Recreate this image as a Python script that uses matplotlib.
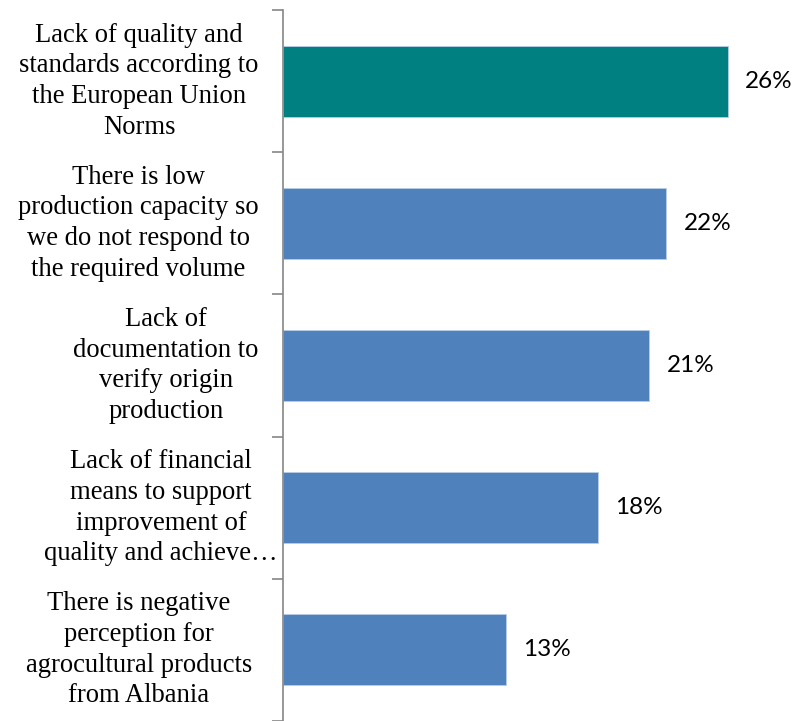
import matplotlib
matplotlib.use("Agg")
import matplotlib.pyplot as plt
from matplotlib.ticker import FixedLocator

# reasons for not exporting, share of answers (%)
reasons = [
    "Lack of quality and\nstandards according to\nthe European Union\nNorms",
    "There is low\nproduction capacity so\nwe do not respond to\nthe required volume",
    "Lack of\ndocumentation to\nverify origin\nproduction",
    "Lack of financial\nmeans to support\nimprovement of\nquality and achieve\u2026",
    "There is negative\nperception for\nagrocultural products\nfrom Albania",
]
shares = [26.0, 22.4, 21.4, 18.4, 13.0]
bar_colors = ["#008080", "#4F81BD", "#4F81BD", "#4F81BD", "#4F81BD"]

W, H = 805, 721
px_per_pct = 17.12
fig = plt.figure(figsize=(W / 100, H / 100), dpi=100)
ax_left, ax_top = 283, 10
ax = fig.add_axes([ax_left / W, 0, (W - ax_left) / W, (H - ax_top) / H])

ypos = list(range(len(reasons)))
ax.barh(ypos, shares, height=0.5, color=bar_colors, edgecolor="#B9CDE5",
        linewidth=0.6)
ax.set_ylim(len(reasons) - 0.5, -0.5)
ax.set_xlim(0, (W - ax_left) / px_per_pct)

for y, v in zip(ypos, shares):
    ax.text(v + 1.0, y, f"{v:.0f}%", va="center", ha="left",
            fontsize=17.5, family="Lato", color="black")

# category labels centred in the left margin (centre in pixels from the left)
label_centres = [139, 138, 166, 161, 139]
for y, lab, c in zip(ypos, reasons, label_centres):
    ax.text((c - ax_left) / px_per_pct, y, lab, ha="center", va="center",
            fontsize=19.2, family="Liberation Serif", linespacing=1.3,
            color="black")

for s in ["top", "right", "bottom"]:
    ax.spines[s].set_visible(False)
ax.spines["left"].set_color("#868686")
ax.spines["left"].set_linewidth(1.2)
ax.set_xticks([])
ax.set_yticks([])
ax.yaxis.set_minor_locator(FixedLocator([i - 0.5 for i in range(len(reasons) + 1)]))
ax.tick_params(axis="y", which="minor", length=8, width=1.2, color="#868686")

fig.savefig("out.png", dpi=100)
